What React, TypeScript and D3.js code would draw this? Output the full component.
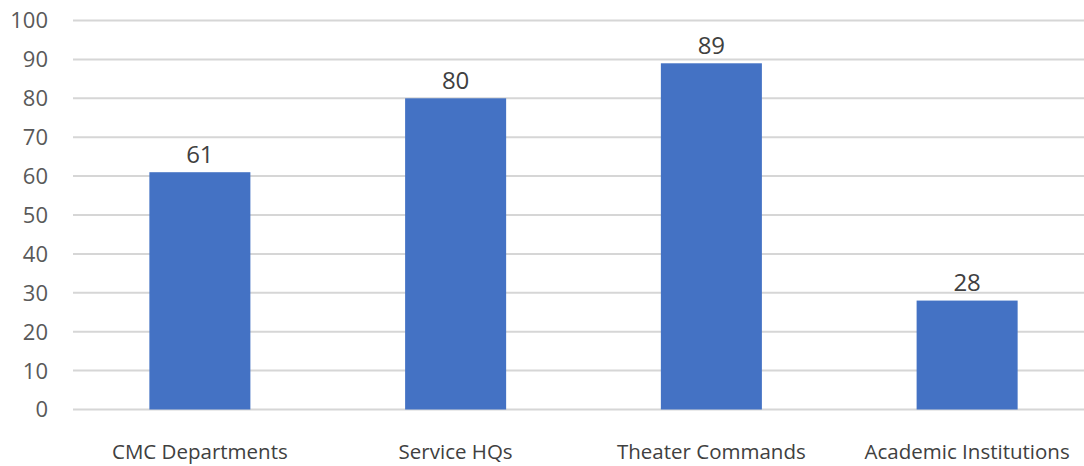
import React from "react";
import * as d3 from "d3";

const categories = ["CMC Departments", "Service HQs", "Theater Commands", "Academic Institutions"];
const values = [61, 80, 89, 28];
const yTicks = [0, 10, 20, 30, 40, 50, 60, 70, 80, 90, 100];

const W = 1084;
const H = 466;
const FONT = "'Open Sans', 'Noto Sans', sans-serif";

export default function App() {
  const x = d3.scaleBand<string>().domain(categories).range([72, 1095]).padding(0);
  const y = d3.scaleLinear().domain([0, 100]).range([409.5, 20.5]);
  const barW = x.bandwidth() * 0.395;

  return (
    <svg
      width={W}
      height={H}
      style={{ position: "absolute", left: 0, top: 0, background: "#fff" }}
    >
      {yTicks.map((t) => (
        <g key={t}>
          <line x1={73} x2={W} y1={y(t)} y2={y(t)} stroke="#d6d6d6" strokeWidth={2} />
          <text
            x={48}
            y={y(t)}
            dy="0.36em"
            textAnchor="end"
            fontFamily={FONT}
            fontSize={22}
            fill="#595959"
          >
            {t}
          </text>
        </g>
      ))}
      {categories.map((c, i) => {
        const cx = (x(c) as number) + x.bandwidth() / 2;
        return (
          <g key={c}>
            <rect
              x={cx - barW / 2}
              y={y(values[i])}
              width={barW}
              height={y(0) - y(values[i])}
              fill="#4472c4"
            />
            <text
              x={cx}
              y={y(values[i]) - 9.5}
              textAnchor="middle"
              fontFamily={FONT}
              fontSize={24}
              fill="#404040"
            >
              {values[i]}
            </text>
            <text
              x={cx}
              y={459}
              textAnchor="middle"
              fontFamily={FONT}
              fontSize={20.5}
              fill="#404040"
            >
              {c}
            </text>
          </g>
        );
      })}
    </svg>
  );
}
